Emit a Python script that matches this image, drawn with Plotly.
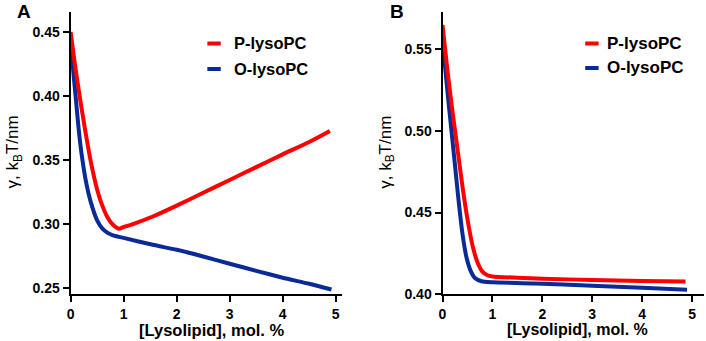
import plotly.graph_objects as go

# ---------------- data ----------------
# Panel A
a_p_x = [0, 0.08, 0.17, 0.27, 0.375, 0.5, 0.575, 0.7, 0.8, 0.906, 1.0, 1.2, 1.55, 2.0, 2.5, 3.0, 3.5, 4.0, 4.5, 4.89]
a_p_y = [0.450, 0.425, 0.400, 0.3745, 0.350, 0.327, 0.317, 0.305, 0.2995, 0.2965, 0.2978, 0.3005, 0.3060, 0.3145, 0.3245, 0.3345, 0.3445, 0.3545, 0.3642, 0.3728]
a_o_x = [0, 0.04, 0.094, 0.15, 0.206, 0.3, 0.375, 0.5, 0.6, 0.7, 0.8, 1.0, 1.55, 2.0, 2.5, 3.0, 3.5, 4.0, 4.5, 4.92]
a_o_y = [0.447, 0.424, 0.400, 0.375, 0.355, 0.331, 0.318, 0.303, 0.2965, 0.2932, 0.2912, 0.2893, 0.2839, 0.2800, 0.2748, 0.2691, 0.2636, 0.2582, 0.2535, 0.2490]

# Panel B
b_p_x = [0, 0.1, 0.2, 0.3, 0.4, 0.5, 0.6, 0.7, 0.8, 0.9, 1.0, 1.5, 2.0, 3.0, 4.0, 4.87]
b_p_y = [0.565, 0.537, 0.512, 0.489, 0.466, 0.446, 0.430, 0.4195, 0.4137, 0.4115, 0.4108, 0.4100, 0.4094, 0.4086, 0.4080, 0.4076]
b_o_x = [0, 0.05, 0.1, 0.17, 0.25, 0.32, 0.4, 0.48, 0.56, 0.65, 0.78, 1.0, 1.85, 3.0, 4.0, 4.9]
b_o_y = [0.558, 0.540, 0.524, 0.503, 0.479, 0.458, 0.437, 0.4225, 0.4145, 0.4098, 0.4078, 0.4072, 0.4065, 0.4050, 0.4038, 0.4026]

series_names = ["P-lysoPC", "O-lysoPC"]
series_colors = ["#FF0000", "#0B2A99"]

x_ticks = [0, 1, 2, 3, 4, 5]
a_y_ticks = [0.25, 0.30, 0.35, 0.40, 0.45]
b_y_ticks = [0.40, 0.45, 0.50, 0.55]

x_title = "[Lysolipid], mol. %"
y_title = "γ, k<sub>B</sub>T/nm"

# ---------------- figure ----------------
W, H = 706, 341
FONT = "Liberation Sans, Arial, sans-serif"

fig = go.Figure()

def add_line(x, y, color, xa, ya):
    fig.add_trace(go.Scatter(
        x=x, y=y, mode="lines", xaxis=xa, yaxis=ya,
        line=dict(color=color, width=4, shape="spline", smoothing=0.6),
        cliponaxis=False, showlegend=False, hoverinfo="skip"))

add_line(a_o_x, a_o_y, series_colors[1], "x", "y")
add_line(a_p_x, a_p_y, series_colors[0], "x", "y")
add_line(b_o_x, b_o_y, series_colors[1], "x2", "y2")
add_line(b_p_x, b_p_y, series_colors[0], "x2", "y2")

axis_common = dict(
    showline=True, linecolor="black", linewidth=2,
    ticks="outside", ticklen=6, tickwidth=2, tickcolor="black",
    showgrid=False, zeroline=False,
    tickfont=dict(family=FONT, size=14, color="black", weight="bold"),
)

fig.update_layout(
    width=W, height=H,
    margin=dict(l=0, r=0, t=12, b=47),
    paper_bgcolor="white", plot_bgcolor="white",
    xaxis=dict(domain=[67 / W, 340 / W], range=[0, 5.12], tickvals=x_ticks,
               anchor="y", **axis_common),
    yaxis=dict(domain=[0, 1], range=[0.2455, 0.4656], tickvals=a_y_ticks,
               tickformat=".2f", anchor="x", **axis_common),
    xaxis2=dict(domain=[441 / W, 704 / W], range=[0, 5.24], tickvals=x_ticks,
                anchor="y2", **axis_common),
    yaxis2=dict(domain=[0, 1], range=[0.40, 0.573], tickvals=b_y_ticks,
                tickformat=".2f", anchor="x2", **axis_common),
)

plot_h = H - 12 - 47

def py(pix):
    # pixel y (from top) -> paper y
    return (H - 47 - pix) / plot_h

def px(pix):
    return pix / W

annotations = []
# panel letters
for letter, lx in (("A", 20.5), ("B", 395.5)):
    annotations.append(dict(text=letter, x=px(lx), y=py(11.5), xref="paper", yref="paper",
                            showarrow=False, xanchor="center", yanchor="middle",
                            font=dict(family=FONT, size=19, color="black", weight="bold")))
# x titles
annotations.append(dict(text=x_title, x=px(209), y=py(329.5), xref="paper", yref="paper",
                        showarrow=False, xanchor="center", yanchor="middle", borderpad=0,
                        font=dict(family=FONT, size=16.5, color="black", weight="bold")))
annotations.append(dict(text=x_title, x=px(577), y=py(329.5), xref="paper", yref="paper",
                        showarrow=False, xanchor="center", yanchor="middle", borderpad=0,
                        font=dict(family=FONT, size=16, color="black", weight="bold")))
# y titles
for yx in (10.5, 385):
    annotations.append(dict(text=y_title, x=px(yx), y=py(152), xref="paper", yref="paper",
                            showarrow=False, xanchor="center", yanchor="middle", textangle=-90,
                            font=dict(family=FONT, size=17, color="black")))

shapes = []
# manual legends: (line x0, line x1, text x, row ys, font size)
legends = [(204.5, 218, 229.5, [43.5, 69], 16.5), (584.5, 598, 604.5, [43.5, 68], 17)]
for lx0, lx1, tx, rows, fs in legends:
    for name, color, ry in zip(series_names, series_colors, rows):
        shapes.append(dict(type="line", xref="paper", yref="paper",
                           x0=px(lx0), x1=px(lx1), y0=py(ry), y1=py(ry),
                           line=dict(color=color, width=4)))
        annotations.append(dict(text=name, x=px(tx), y=py(ry), xref="paper", yref="paper",
                                showarrow=False, xanchor="left", yanchor="middle",
                                font=dict(family=FONT, size=fs, color="black", weight="bold")))

fig.update_layout(annotations=annotations, shapes=shapes)

fig.write_html("out.html", config={"displayModeBar": False},
               post_script="document.body.style.margin='0';document.body.style.padding='0';")
